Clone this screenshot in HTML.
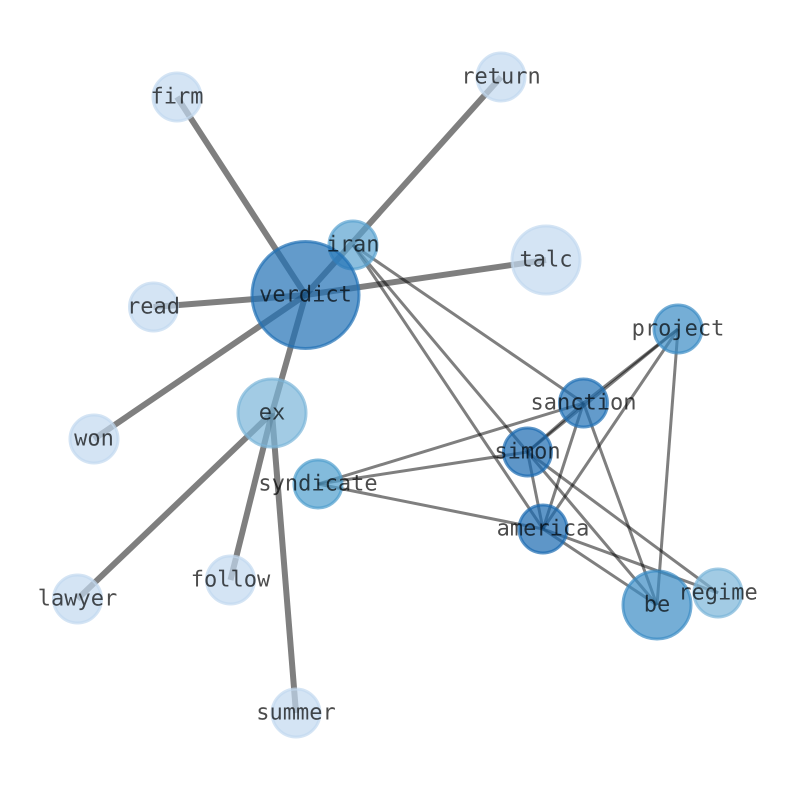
<!DOCTYPE html>
<html><head><meta charset="utf-8"><style>
html,body{margin:0;padding:0;background:#fff}
svg{display:block}
text{font-family:"DejaVu Sans Mono","Liberation Mono",monospace;font-size:22px;fill:#000;fill-opacity:.7;text-anchor:middle;dominant-baseline:central;text-rendering:geometricPrecision}
.t{stroke:#000;stroke-opacity:.5;stroke-width:6}
.n{stroke:#000;stroke-opacity:.5;stroke-width:3}
circle{stroke-width:3;fill-opacity:.7;stroke-opacity:.7}
</style></head><body>
<svg width="794" height="790" viewBox="0 0 794 790" xmlns="http://www.w3.org/2000/svg">
<g class="t">
<line x1="305.5" y1="295" x2="177" y2="97"/>
<line x1="305.5" y1="295" x2="501" y2="77"/>
<line x1="305.5" y1="295" x2="546" y2="260"/>
<line x1="305.5" y1="295" x2="153.5" y2="307"/>
<line x1="305.5" y1="295" x2="94" y2="439"/>
<line x1="305.5" y1="295" x2="272" y2="413"/>
<line x1="272" y1="413" x2="77.5" y2="599"/>
<line x1="272" y1="413" x2="230.5" y2="580"/>
<line x1="272" y1="413" x2="296" y2="713"/>
</g>
<g class="n">
<line x1="353" y1="245" x2="583.5" y2="403"/>
<line x1="353" y1="245" x2="527.5" y2="452"/>
<line x1="353" y1="245" x2="543" y2="529"/>
<line x1="318" y1="484" x2="583.5" y2="403"/>
<line x1="318" y1="484" x2="527.5" y2="452"/>
<line x1="318" y1="484" x2="543" y2="529"/>
<line x1="583.5" y1="403" x2="527.5" y2="452"/>
<line x1="583.5" y1="403" x2="678" y2="329"/>
<line x1="527.5" y1="452" x2="678" y2="329"/>
<line x1="543" y1="529" x2="678" y2="329"/>
<line x1="657" y1="605" x2="678" y2="329"/>
<line x1="583.5" y1="403" x2="543" y2="529"/>
<line x1="583.5" y1="403" x2="657" y2="605"/>
<line x1="527.5" y1="452" x2="543" y2="529"/>
<line x1="527.5" y1="452" x2="657" y2="605"/>
<line x1="527.5" y1="452" x2="718" y2="593"/>
<line x1="543" y1="529" x2="657" y2="605"/>
<line x1="543" y1="529" x2="718" y2="593"/>
</g>
<g>
<circle cx="353" cy="245" r="24" fill="#5aa3d0" stroke="#5aa3d0"/>
<circle cx="305.5" cy="295" r="53.5" fill="#2171b5" stroke="#2171b5"/>
<circle cx="177" cy="97" r="24" fill="#c2d9ef" stroke="#c2d9ef"/>
<circle cx="501" cy="77" r="24" fill="#c2d9ef" stroke="#c2d9ef"/>
<circle cx="546" cy="260" r="34" fill="#c2d9ef" stroke="#c2d9ef"/>
<circle cx="153.5" cy="307" r="24" fill="#c2d9ef" stroke="#c2d9ef"/>
<circle cx="94" cy="439" r="24" fill="#c2d9ef" stroke="#c2d9ef"/>
<circle cx="272" cy="413" r="34" fill="#7ab5d9" stroke="#7ab5d9"/>
<circle cx="318" cy="484" r="24" fill="#4f9ecd" stroke="#4f9ecd"/>
<circle cx="77.5" cy="599" r="24" fill="#c2d9ef" stroke="#c2d9ef"/>
<circle cx="230.5" cy="580" r="24" fill="#c2d9ef" stroke="#c2d9ef"/>
<circle cx="296" cy="713" r="24" fill="#c2d9ef" stroke="#c2d9ef"/>
<circle cx="583.5" cy="403" r="24" fill="#2171b5" stroke="#2171b5"/>
<circle cx="527.5" cy="452" r="24" fill="#1a69b0" stroke="#1a69b0"/>
<circle cx="543" cy="529" r="24" fill="#1a69b0" stroke="#1a69b0"/>
<circle cx="657" cy="605" r="34" fill="#3b8cc4" stroke="#3b8cc4"/>
<circle cx="718" cy="593" r="24" fill="#7ab5d9" stroke="#7ab5d9"/>
<circle cx="678" cy="329" r="24" fill="#3b8cc4" stroke="#3b8cc4"/>
</g>
<g>
<text x="305.5" y="295">verdict</text>
<text x="353" y="245">iran</text>
<text x="177" y="97">firm</text>
<text x="501" y="77">return</text>
<text x="546" y="260">talc</text>
<text x="153.5" y="307">read</text>
<text x="94" y="439">won</text>
<text x="272" y="413">ex</text>
<text x="318" y="484">syndicate</text>
<text x="77.5" y="599">lawyer</text>
<text x="230.5" y="580">follow</text>
<text x="296" y="713">summer</text>
<text x="583.5" y="403">sanction</text>
<text x="527.5" y="452">simon</text>
<text x="543" y="529">america</text>
<text x="657" y="605">be</text>
<text x="718" y="593">regime</text>
<text x="678" y="329">project</text>
</g>
</svg>
</body></html>
